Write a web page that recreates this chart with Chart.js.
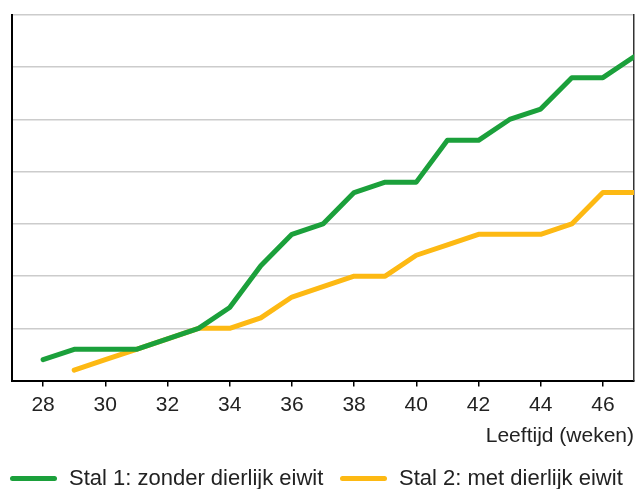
<!DOCTYPE html>
<html>
<head>
<meta charset="utf-8">
<script src="https://cdn.jsdelivr.net/npm/chart.js@4"></script>
<style>
  html, body { margin: 0; padding: 0; background: #fff; }
  #wrap { width: 638px; height: 489px; position: relative; }
  #legend { position: absolute; left: 0; top: 466px; height: 24px; width: 638px;
            font: 22px 'Liberation Sans', Arial, sans-serif; color: #222; }
  .item { position: absolute; top: 0; height: 24px; line-height: 24px; white-space: nowrap; }
  .swatch { position: absolute; left: 0; top: 10px; width: 47px; height: 5px; border-radius: 3px; }
  .label { position: absolute; left: 59px; top: 0; }
</style>
</head>
<body>
<div id="wrap"><canvas id="chart"></canvas><div id="legend"></div></div>
<script>
const weeks = [28, 29, 30, 31, 32, 33, 34, 35, 36, 37, 38, 39, 40, 41, 42, 43, 44, 45, 46, 47];
const stal1 = [0.4, 0.6, 0.6, 0.6, 0.8, 1.0, 1.4, 2.2, 2.8, 3.0, 3.6, 3.8, 3.8, 4.6, 4.6, 5.0, 5.2, 5.8, 5.8, 6.2];
const stal2 = [null, 0.2, 0.4, 0.6, 0.8, 1.0, 1.0, 1.2, 1.6, 1.8, 2.0, 2.0, 2.4, 2.6, 2.8, 2.8, 2.8, 3.0, 3.6, 3.6];
const xTicks = [28, 30, 32, 34, 36, 38, 40, 42, 44, 46];
const seriesNames = ['Stal 1: zonder dierlijk eiwit', 'Stal 2: met dierlijk eiwit'];

const GREEN = '#1ba03b';
const YELLOW = '#fdb913';
const FONT = "'Liberation Sans', Arial, sans-serif";

Chart.defaults.font.family = FONT;
Chart.defaults.color = '#222';

function points(vals) {
    return weeks.map((w, i) => ({ x: w, y: vals[i] }));
}

function lineSet(label, vals, color) {
    return {
        label,
        data: points(vals),
        borderColor: color,
        backgroundColor: color,
        borderWidth: 5,
        borderCapStyle: 'round',
        borderJoinStyle: 'round',
        pointRadius: 0,
        tension: 0
    };
}

const ctx = document.getElementById('chart').getContext('2d');
const chart = new Chart(ctx, {
    type: 'line',
    data: {
        datasets: [
            lineSet(seriesNames[0], stal1, GREEN),
            { ...lineSet(seriesNames[1], stal2, YELLOW), order: 1 }
        ]
    },
    options: {
        responsive: true,
        maintainAspectRatio: false,
        animation: false,
        layout: { padding: { left: 0, right: 0, top: 15, bottom: 40 } },
        plugins: {
            tooltip: { enabled: false },
            legend: { display: false }
        },
        scales: {
            x: {
                type: 'linear',
                min: 27,
                max: 47,
                afterBuildTicks: axis => { axis.ticks = xTicks.map(v => ({ value: v })); },
                grid: { drawOnChartArea: false, drawTicks: true, tickLength: 6, color: '#000', lineWidth: 1.5 },
                border: { display: true, color: '#000', width: 2 },
                ticks: { color: '#222', font: { size: 21 }, padding: 6, maxRotation: 0 },
                title: {
                    display: true,
                    text: 'Leeftijd (weken)',
                    align: 'end',
                    color: '#222',
                    font: { size: 21 },
                    padding: { top: 0, bottom: 0 }
                }
            },
            y: {
                min: 0,
                max: 7,
                afterFit: axis => { axis.width = 12; },
                ticks: { display: false, stepSize: 1 },
                grid: { color: '#cccccc', lineWidth: 1.5, drawTicks: false },
                border: { display: true, color: '#000', width: 2 }
            },
            yRight: {
                position: 'right',
                min: 0,
                max: 7,
                afterFit: axis => { axis.width = 4; },
                ticks: { display: false },
                grid: { display: false, drawTicks: false },
                border: { display: true, color: '#333', width: 1.5 }
            }
        }
    }
});

// legend built from the chart's datasets
const legendLeft = [10, 340];
const legendEl = document.getElementById('legend');
chart.data.datasets.forEach((ds, i) => {
    const item = document.createElement('div');
    item.className = 'item';
    item.style.left = legendLeft[i] + 'px';
    item.innerHTML = '<span class="swatch" style="background:' + ds.borderColor + '"></span>' +
        '<span class="label">' + ds.label + '</span>';
    legendEl.appendChild(item);
});
</script>
</body>
</html>
